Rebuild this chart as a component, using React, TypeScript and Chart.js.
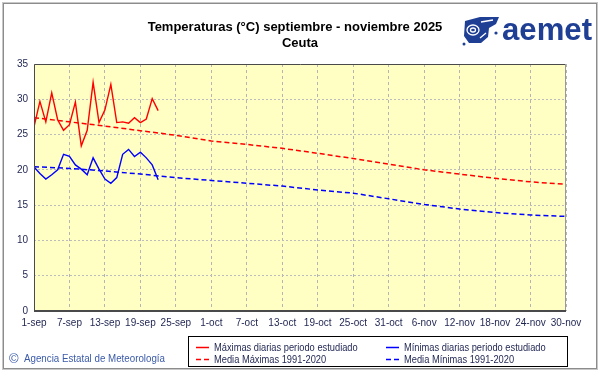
import { useEffect, useRef } from 'react';
import { Chart, registerables } from 'chart.js';

Chart.register(...registerables);

const tickLabels = ['1-sep', '7-sep', '13-sep', '19-sep', '25-sep', '1-oct', '7-oct', '13-oct', '19-oct', '25-oct', '31-oct', '6-nov', '12-nov', '18-nov', '24-nov', '30-nov'];
const tickDays = [0, 6, 12, 18, 24, 30, 36, 42, 48, 54, 60, 66, 72, 78, 84, 90];
const maxDaily = [26.1, 29.7, 26.8, 30.9, 27.1, 25.6, 26.4, 29.6, 23.4, 25.6, 32.4, 26.7, 28.5, 32.1, 26.7, 26.8, 26.6, 27.4, 26.7, 27.2, 30.1, 28.4];
const minDaily = [20.4, 19.5, 18.7, 19.3, 20.0, 22.2, 21.9, 20.7, 20.1, 19.3, 21.7, 20.1, 18.7, 18.1, 18.9, 22.2, 22.9, 21.9, 22.5, 21.7, 20.7, 18.6];
const meanMax = [27.4, 26.8, 26.2, 25.55, 24.9, 24.1, 23.6, 23.05, 22.35, 21.6, 20.8, 20.0, 19.4, 18.8, 18.3, 17.95];
const meanMin = [20.45, 20.2, 19.85, 19.4, 18.9, 18.5, 18.1, 17.7, 17.15, 16.7, 15.9, 15.1, 14.45, 13.95, 13.6, 13.4];
const seriesNames = ['Máximas diarias periodo estudiado', 'Mínimas diarias periodo estudiado', 'Media Máximas 1991-2020', 'Media Mínimas 1991-2020'];
const titleText = 'Temperaturas (°C) septiembre - noviembre 2025';
const subtitleText = 'Ceuta';
const footerText = 'Agencia Estatal de Meteorología';

const FONT = '"Liberation Sans", Arial, sans-serif';
const LABEL_COLOR = '#1e2450';

const decor = {
  id: 'decor',
  beforeDraw(chart: any) {
    const { ctx, chartArea: a, width, height } = chart;
    ctx.save();
    ctx.fillStyle = '#ffffff';
    ctx.fillRect(0, 0, width, height);
    ctx.strokeStyle = '#8c8c8c';
    ctx.lineWidth = 1;
    ctx.strokeRect(3.5, 3.5, 593, 365);
    ctx.strokeStyle = '#c8c8c8';
    ctx.strokeRect(2.5, 2.5, 595, 367);
    ctx.fillStyle = '#ffffc4';
    ctx.fillRect(a.left, a.top, a.right - a.left, a.bottom - a.top);
    ctx.restore();
  },
  afterDraw(chart: any) {
    const { ctx, chartArea: a } = chart;
    ctx.save();
    // plot border
    ctx.strokeStyle = '#4a4a4a';
    ctx.lineWidth = 1;
    ctx.beginPath();
    ctx.moveTo(a.left + 0.5, a.bottom);
    ctx.lineTo(a.left + 0.5, a.top + 0.5);
    ctx.lineTo(a.right, a.top + 0.5);
    ctx.stroke();
    ctx.strokeStyle = '#9a9a9a';
    ctx.beginPath();
    ctx.moveTo(a.right - 0.5, a.top);
    ctx.lineTo(a.right - 0.5, a.bottom);
    ctx.stroke();
    ctx.strokeStyle = '#4a4a4a';
    ctx.lineWidth = 2;
    ctx.beginPath();
    ctx.moveTo(a.left, a.bottom);
    ctx.lineTo(a.right, a.bottom);
    ctx.stroke();

    // title
    ctx.fillStyle = '#000000';
    ctx.textAlign = 'center';
    ctx.textBaseline = 'middle';
    ctx.font = 'bold 13px ' + FONT;
    ctx.fillText(titleText, 295, 27, 300);
    ctx.fillText(subtitleText, 300, 43);

    // logo icon
    const blue = '#1f3f95';
    ctx.fillStyle = blue;
    ctx.beginPath();
    ctx.moveTo(465, 21);
    ctx.lineTo(480, 17);
    ctx.lineTo(499, 17);
    ctx.lineTo(496, 24);
    ctx.lineTo(489, 28);
    ctx.lineTo(488, 37);
    ctx.lineTo(481, 43);
    ctx.lineTo(469, 43);
    ctx.lineTo(464, 36);
    ctx.closePath();
    ctx.fill();
    ctx.strokeStyle = '#ffffff';
    ctx.lineWidth = 1.3;
    ctx.beginPath();
    ctx.ellipse(473, 30, 6, 5, 0, 0, Math.PI * 2);
    ctx.stroke();
    ctx.beginPath();
    ctx.ellipse(473, 30, 2.5, 2, 0, 0, Math.PI * 2);
    ctx.stroke();
    ctx.beginPath();
    ctx.moveTo(481, 22);
    ctx.lineTo(493, 20);
    ctx.moveTo(480, 38);
    ctx.lineTo(486, 33);
    ctx.stroke();
    ctx.fillStyle = blue;
    ctx.beginPath();
    ctx.arc(464, 44, 1.5, 0, Math.PI * 2);
    ctx.fill();
    ctx.beginPath();
    ctx.arc(496, 33, 1.6, 0, Math.PI * 2);
    ctx.fill();
    ctx.textAlign = 'left';
    ctx.textBaseline = 'alphabetic';
    ctx.font = 'bold 32px ' + FONT;
    ctx.fillText('aemet', 502, 40, 90);

    // legend
    ctx.strokeStyle = '#000000';
    ctx.lineWidth = 1;
    ctx.strokeRect(188.5, 336.5, 379, 30);
    const cols = [196, 386];
    const rows = [347.5, 359.5];
    ctx.font = '10px ' + FONT;
    ctx.textBaseline = 'middle';
    chart.data.datasets.forEach((ds: any, i: number) => {
      const x = cols[i % 2];
      const y = rows[Math.floor(i / 2)];
      ctx.strokeStyle = ds.borderColor;
      ctx.lineWidth = 1.5;
      ctx.setLineDash(ds.borderDash || []);
      ctx.beginPath();
      ctx.moveTo(x, y);
      ctx.lineTo(x + 13, y);
      ctx.stroke();
      ctx.setLineDash([]);
      ctx.fillStyle = LABEL_COLOR;
      const w = ctx.measureText(ds.label).width;
      ctx.fillText(ds.label, x + 18, y + 0.5, w * 0.93);
    });

    // footer
    ctx.fillStyle = '#3a5aa8';
    ctx.font = '13px ' + FONT;
    ctx.fillText('©', 9, 359.5);
    ctx.font = '10px ' + FONT;
    ctx.fillText(footerText, 24, 359.5, 141);
    ctx.restore();
  },
};

export default function App() {
  const ref = useRef<HTMLCanvasElement | null>(null);
  useEffect(() => {
    document.body.style.margin = '0';
    const canvas = ref.current!;
    const chart = new Chart(canvas, {
      type: 'line',
      data: {
        datasets: [
          {
            label: seriesNames[0],
            data: maxDaily.map((v, i) => ({ x: i, y: v })),
            borderColor: '#ff0000',
            borderWidth: 1.4,
            pointRadius: 0,
            tension: 0,
          },
          {
            label: seriesNames[1],
            data: minDaily.map((v, i) => ({ x: i, y: v })),
            borderColor: '#0000ff',
            borderWidth: 1.4,
            pointRadius: 0,
            tension: 0,
          },
          {
            label: seriesNames[2],
            data: meanMax.map((v, i) => ({ x: tickDays[i], y: v })),
            borderColor: '#ff0000',
            borderWidth: 1.5,
            borderDash: [5, 3],
            pointRadius: 0,
            tension: 0,
          },
          {
            label: seriesNames[3],
            data: meanMin.map((v, i) => ({ x: tickDays[i], y: v })),
            borderColor: '#0000ff',
            borderWidth: 1.5,
            borderDash: [5, 3],
            pointRadius: 0,
            tension: 0,
          },
        ],
      },
      options: {
        responsive: false,
        animation: false,
        devicePixelRatio: 1,
        layout: { padding: { left: 0, right: 35, top: 64, bottom: 43 } },
        plugins: { legend: { display: false }, title: { display: false }, tooltip: { enabled: false } },
        scales: {
          x: {
            type: 'linear',
            min: 0,
            max: 90,
            afterFit: (s: any) => { s.height = 20; },
            afterBuildTicks: (s: any) => { s.ticks = tickDays.map((d) => ({ value: d })); },
            ticks: {
              autoSkip: false,
              maxRotation: 0,
              padding: 6,
              color: LABEL_COLOR,
              font: { family: FONT, size: 10 },
              callback: (v: any) => tickLabels[tickDays.indexOf(Number(v))] ?? '',
            },
            grid: { color: '#b4b4b4', drawTicks: false, lineWidth: 1 },
            border: { display: false, dash: [3, 3] },
          },
          y: {
            min: 0,
            max: 35,
            afterFit: (s: any) => { s.width = 34; },
            ticks: {
              stepSize: 5,
              padding: 6,
              color: LABEL_COLOR,
              font: { family: FONT, size: 10 },
            },
            grid: { color: '#bcbcbc', drawTicks: false, lineWidth: 1 },
            border: { display: false, dash: [2, 2] },
          },
        },
      },
      plugins: [decor],
    });
    return () => chart.destroy();
  }, []);
  return <canvas ref={ref} width={601} height={374} style={{ display: 'block', width: 601, height: 374 }} />;
}
